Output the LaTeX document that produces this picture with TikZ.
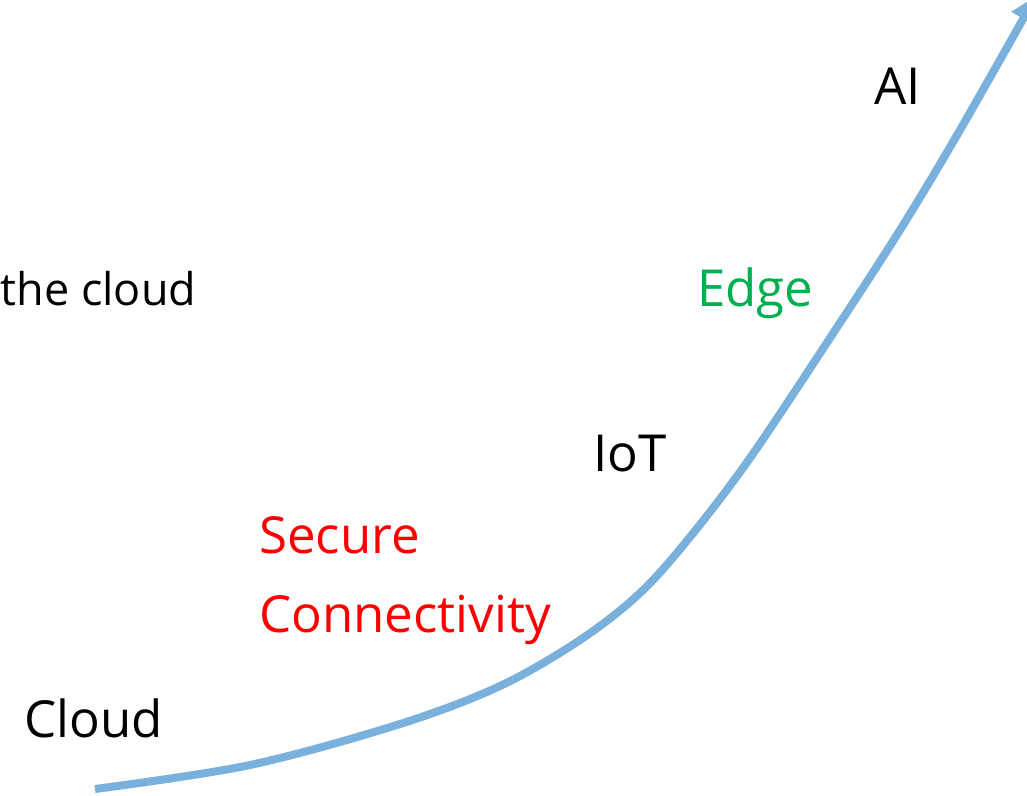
\documentclass[tikz,border=0pt]{standalone}
\usepackage{fontspec}
\setmainfont{Open Sans}
\usetikzlibrary{arrows.meta}
\definecolor{curveblue}{HTML}{7AB0DC}
\definecolor{edgegreen}{HTML}{00B050}
\begin{document}
\begin{tikzpicture}[x=1pt,y=-1pt,
  lbl/.style={anchor=base west,inner sep=0pt,font=\fontsize{51}{60}\selectfont}]
\useasboundingbox (0,0) rectangle (1027,795);
\begin{scope}
\clip (0,0) rectangle (1027,795);
\draw[curveblue,line width=8pt,-{Triangle[length=26pt,width=26pt]}]
  plot[smooth,tension=0.55] coordinates {(95,789) (250,765) (400,724) (500,686) (580,640) (640,593) (690,537) (750,458) (830,338) (900,230) (960,130) (1036,-4)};
\end{scope}
\node[lbl,font=\fontsize{45}{54}\selectfont] (thecloud) at (0.5,305) {the cloud};
\node[lbl] (ai) at (874,104) {AI};
\node[lbl,text=edgegreen] (edge) at (697,306) {Edge};
\node[lbl] (iot) at (593,471) {IoT};
\node[lbl,text=red] (secure) at (259,553) {Secure};
\node[lbl,text=red] (conn) at (259,632) {Connectivity};
\node[lbl] (cloud) at (24,737) {Cloud};
\end{tikzpicture}
\end{document}
